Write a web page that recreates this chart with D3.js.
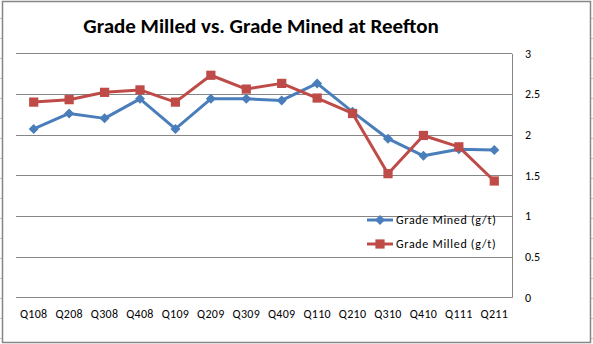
<!DOCTYPE html>
<html>
<head>
<meta charset="utf-8">
<script src="https://cdn.jsdelivr.net/npm/d3@7"></script>
<style>
  html, body { margin: 0; padding: 0; background: #fff; }
  svg { display: block; }
</style>
</head>
<body>
<svg id="chart" width="593" height="344"></svg>
<script>
const quarters = ['Q108', 'Q208', 'Q308', 'Q408', 'Q109', 'Q209', 'Q309', 'Q409',
  'Q110', 'Q210', 'Q310', 'Q410', 'Q111', 'Q211'];
const gradeMined = [2.07, 2.26, 2.20, 2.44, 2.07, 2.44, 2.44, 2.42, 2.63, 2.28, 1.95, 1.74, 1.82, 1.81];
const gradeMilled = [2.40, 2.43, 2.52, 2.55, 2.40, 2.73, 2.56, 2.63, 2.45, 2.26, 1.52, 1.99, 1.85, 1.43];
const yTicks = [0, 0.5, 1, 1.5, 2, 2.5, 3];

const svg = d3.select('#chart');
const width = 593, height = 344;
const plot = { left: 16, right: 512, top: 53.3, bottom: 297.3 };
const font = 'Calibri, Carlito, Lato, "Open Sans", sans-serif';

// spreadsheet cell lines peeking out beside the chart frame
[[0, 2], [591, 593]].forEach(([x1, x2]) => {
  svg.append('g')
    .attr('stroke', '#c8c8c8')
    .selectAll('line')
    .data(d3.range(18, height, 20))
    .join('line')
      .attr('x1', x1).attr('x2', x2)
      .attr('y1', d => d + 0.5).attr('y2', d => d + 0.5);
});

// chart frame
svg.append('rect')
  .attr('x', 2.5).attr('y', 1.5)
  .attr('width', 588).attr('height', 341)
  .attr('fill', '#fff')
  .attr('stroke', '#868686')
  .attr('stroke-width', 1.5);

const x = d3.scaleBand()
  .domain(quarters)
  .range([plot.left, plot.right]);

const y = d3.scaleLinear()
  .domain([0, 3])
  .range([plot.bottom, plot.top]);

// right value axis
const yAxis = svg.append('g')
  .attr('transform', `translate(${plot.right},0)`)
  .call(d3.axisRight(y).tickValues(yTicks).tickFormat(d3.format('')).tickSize(0).tickPadding(13));
yAxis.select('.domain').attr('stroke', '#868686').attr('stroke-width', 1);
yAxis.selectAll('text')
  .attr('font-family', font)
  .attr('font-size', 12)
  .attr('fill', '#000');

// horizontal gridlines
svg.append('g')
  .attr('stroke', '#868686')
  .selectAll('line')
  .data(yTicks)
  .join('line')
    .attr('x1', plot.left).attr('x2', plot.right)
    .attr('y1', d => Math.round(y(d)) + 0.5)
    .attr('y2', d => Math.round(y(d)) + 0.5);

// category axis
const xAxis = svg.append('g')
  .attr('transform', `translate(0,${plot.bottom})`)
  .call(d3.axisBottom(x).tickSize(0).tickPadding(12));
xAxis.select('.domain').remove();
xAxis.selectAll('text')
  .attr('font-family', font)
  .attr('font-size', 12)
  .attr('letter-spacing', 0.3)
  .attr('fill', '#000');

// diamond = square turned 45 degrees
const series = [
  { name: 'Grade Mined (g/t)', values: gradeMined, color: '#4a7ebb', symbol: d3.symbolSquare, size: 50, rotate: 45 },
  { name: 'Grade Milled (g/t)', values: gradeMilled, color: '#be4b48', symbol: d3.symbolSquare, size: 85, rotate: 0 }
];

const line = d3.line()
  .x((d, i) => x(quarters[i]) + x.bandwidth() / 2)
  .y(d => y(d));

series.forEach(s => {
  svg.append('path')
    .datum(s.values)
    .attr('fill', 'none')
    .attr('stroke', s.color)
    .attr('stroke-width', 3)
    .attr('stroke-linejoin', 'round')
    .attr('d', line);

  svg.append('g')
    .selectAll('path')
    .data(s.values)
    .join('path')
      .attr('transform', (d, i) => `translate(${x(quarters[i]) + x.bandwidth() / 2},${y(d)}) rotate(${s.rotate})`)
      .attr('d', d3.symbol(s.symbol, s.size))
      .attr('fill', s.color);
});

// legend
const legend = svg.append('g')
  .attr('transform', 'translate(367,220)');
const rows = legend.selectAll('g')
  .data(series)
  .join('g')
    .attr('transform', (d, i) => `translate(0,${i * 24})`);
rows.append('line')
  .attr('x1', 0).attr('x2', 26)
  .attr('stroke', d => d.color)
  .attr('stroke-width', 3);
rows.append('path')
  .attr('transform', d => `translate(13,0) rotate(${d.rotate})`)
  .attr('d', d => d3.symbol(d.symbol, d.size)())
  .attr('fill', d => d.color);
rows.append('text')
  .attr('x', 29)
  .attr('dy', '0.35em')
  .attr('font-family', font)
  .attr('font-size', 12)
  .attr('letter-spacing', 0.7)
  .attr('fill', '#000')
  .text(d => d.name);

// title
svg.append('text')
  .attr('x', 261)
  .attr('y', 33)
  .attr('text-anchor', 'middle')
  .attr('font-family', font)
  .attr('font-weight', 'bold')
  .attr('font-size', 21)
  .attr('fill', '#000')
  .text('Grade Milled vs. Grade Mined at Reefton');
</script>
</body>
</html>
